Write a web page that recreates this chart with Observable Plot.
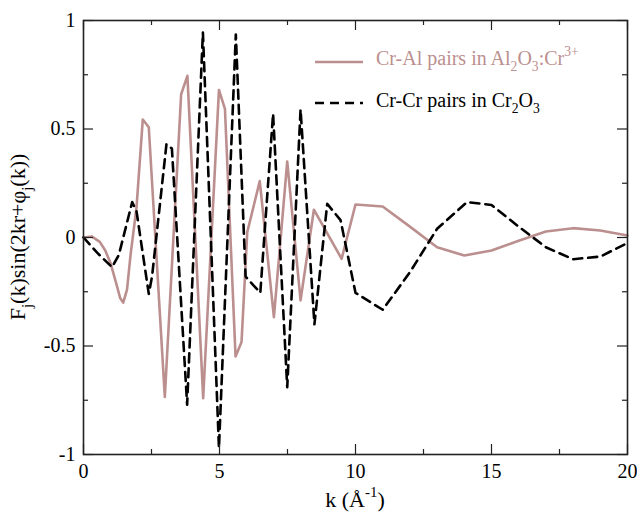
<!DOCTYPE html>
<html>
<head>
<meta charset="utf-8">
<script src="https://cdn.jsdelivr.net/npm/d3@7"></script>
<script src="https://cdn.jsdelivr.net/npm/@observablehq/plot@0.6"></script>
<style>
  html, body { margin: 0; padding: 0; background: #fff; }
  #chart { width: 637px; height: 518px; }
  #chart svg text, #chart svg tspan { font-family: "Liberation Serif", "DejaVu Serif", serif !important; }
</style>
</head>
<body>
<div id="chart"></div>
<script>
// ---- data ----
const seriesNames = ["Cr-Al pairs in Al2O3:Cr3+", "Cr-Cr pairs in Cr2O3"];

const alK = [0, 0.3, 0.6, 0.8, 1.0, 1.2, 1.35, 1.46, 1.6, 1.73, 1.95, 2.18, 2.4, 2.99, 3.59, 3.82, 4.40, 4.98, 5.20, 5.59, 5.81, 6.02, 6.48, 7.0, 7.49, 7.98, 8.47, 9.49, 10.0, 11.0, 12.0, 13.0, 14.0, 15.0, 16.0, 17.0, 18.0, 19.0, 20.0];
const alV = [0, 0.005, -0.02, -0.06, -0.12, -0.21, -0.28, -0.30, -0.24, -0.08, 0.14, 0.544, 0.508, -0.735, 0.66, 0.745, -0.74, 0.68, 0.593, -0.548, -0.482, 0.024, 0.26, -0.367, 0.35, -0.29, 0.128, -0.098, 0.152, 0.143, 0.05, -0.045, -0.083, -0.06, -0.015, 0.028, 0.043, 0.032, 0.009];

const crK = [0, 0.5, 1.05, 1.3, 1.79, 1.95, 2.4, 2.52, 3.05, 3.25, 3.81, 4.39, 4.98, 5.6, 5.96, 6.5, 6.97, 7.49, 7.98, 8.49, 8.96, 9.45, 10.0, 11.0, 12.0, 13.0, 14.1, 15.0, 16.0, 17.0, 18.0, 19.0, 20.0];
const crV = [0, -0.07, -0.137, -0.08, 0.163, 0.12, -0.26, -0.18, 0.43, 0.41, -0.77, 0.945, -0.97, 0.935, -0.18, -0.255, 0.57, -0.69, 0.59, -0.40, 0.155, 0.08, -0.255, -0.333, -0.16, 0.04, 0.163, 0.15, 0.05, -0.045, -0.1, -0.088, -0.025];

const xMajor = [0, 5, 10, 15, 20];
const xMinor = [2.5, 7.5, 12.5, 17.5];
const yMajor = [-1, -0.5, 0, 0.5, 1];
const yMinor = [-0.75, -0.25, 0.25, 0.75];

const alData = alK.map((k, i) => ({k, v: alV[i], s: seriesNames[0]}));
const crData = crK.map((k, i) => ({k, v: crV[i], s: seriesNames[1]}));

const W = 637, H = 518;
const mL = 83, mR = 10, mT = 20, mB = 64;
const pw = W - mL - mR, ph = H - mT - mB;
const pink = "#bc8f8f";
const axisColor = "#222";
const serif = "'Liberation Serif', 'DejaVu Serif', serif";

const plot = Plot.plot({
  width: W,
  height: H,
  marginLeft: mL,
  marginRight: mR,
  marginTop: mT,
  marginBottom: mB,
  style: {fontFamily: serif, fontSize: "20px", background: "#fff", color: "#000"},
  x: {domain: [0, 20], ticks: xMajor, tickSize: 0, tickPadding: 9, tickFormat: d => String(d), label: null},
  y: {domain: [-1, 1], ticks: yMajor, tickSize: 0, tickPadding: 8, tickFormat: d => String(d), label: null},
  marks: [
    Plot.line(alData, {x: "k", y: "v", stroke: pink, strokeWidth: 2.6, curve: "linear"}),
    Plot.line(crData, {x: "k", y: "v", stroke: "#000", strokeWidth: 2.6, strokeDasharray: "9,6", curve: "linear"}),
    // inward ticks on all four sides
    Plot.tickX(xMajor, {x: d => d, stroke: axisColor, strokeWidth: 1.2, insetTop: ph - 10}),
    Plot.tickX(xMinor, {x: d => d, stroke: axisColor, strokeWidth: 1.2, insetTop: ph - 5}),
    Plot.tickX(xMajor, {x: d => d, stroke: axisColor, strokeWidth: 1.2, insetBottom: ph - 10}),
    Plot.tickX(xMinor, {x: d => d, stroke: axisColor, strokeWidth: 1.2, insetBottom: ph - 5}),
    Plot.tickY(yMajor, {y: d => d, stroke: axisColor, strokeWidth: 1.2, insetRight: pw - 10}),
    Plot.tickY(yMinor, {y: d => d, stroke: axisColor, strokeWidth: 1.2, insetRight: pw - 5}),
    Plot.tickY(yMajor, {y: d => d, stroke: axisColor, strokeWidth: 1.2, insetLeft: pw - 10}),
    Plot.tickY(yMinor, {y: d => d, stroke: axisColor, strokeWidth: 1.2, insetLeft: pw - 5}),
    Plot.frame({stroke: axisColor, strokeWidth: 1.6})
  ]
});

document.getElementById("chart").appendChild(plot);

// ---- rich text labels (sub/superscripts) ----
const svg = d3.select(plot).attr("font-family", serif);
function rich(sel, parts) {
  let shift = 0;
  parts.forEach(([t, kind]) => {
    const target = kind === "sub" ? 0.32 : kind === "sup" ? -0.45 : 0;
    const ts = sel.append("tspan").text(t).attr("dy", (target - shift) + "em");
    if (kind) ts.attr("font-size", "0.68em").attr("dy", ((target - shift) / 0.68) + "em");
    shift = target;
  });
  return sel;
}

// y-axis label
const yl = svg.append("text")
  .attr("transform", `translate(25, ${mT + ph / 2}) rotate(-90)`)
  .attr("text-anchor", "middle")
  .attr("font-size", 22)
  .attr("fill", "#000");
rich(yl, [["F"], ["j", "sub"], ["(k)sin(2kr+φ"], ["j", "sub"], ["(k))"]]);

// x-axis label
const xl = svg.append("text")
  .attr("x", mL + pw / 2)
  .attr("y", 507)
  .attr("text-anchor", "middle")
  .attr("font-size", 22)
  .attr("fill", "#000");
rich(xl, [["k (Å"], ["-1", "sup"], [")"]]);

// legend
const lx0 = 315, lx1 = 363, tx = 376;
svg.append("line").attr("x1", lx0).attr("x2", lx1).attr("y1", 62).attr("y2", 62)
  .attr("stroke", pink).attr("stroke-width", 2.6);
const t1 = svg.append("text").attr("x", tx).attr("y", 65).attr("text-anchor", "start")
  .attr("font-size", 20).attr("fill", pink);
rich(t1, [["Cr-Al pairs in Al"], ["2", "sub"], ["O"], ["3", "sub"], [":Cr"], ["3+", "sup"]]);

svg.append("line").attr("x1", lx0).attr("x2", lx1).attr("y1", 103).attr("y2", 103)
  .attr("stroke", "#000").attr("stroke-width", 2.6).attr("stroke-dasharray", "9,6");
const t2 = svg.append("text").attr("x", tx).attr("y", 107).attr("text-anchor", "start")
  .attr("font-size", 20).attr("fill", "#000");
rich(t2, [["Cr-Cr pairs in Cr"], ["2", "sub"], ["O"], ["3", "sub"]]);
</script>
</body>
</html>
